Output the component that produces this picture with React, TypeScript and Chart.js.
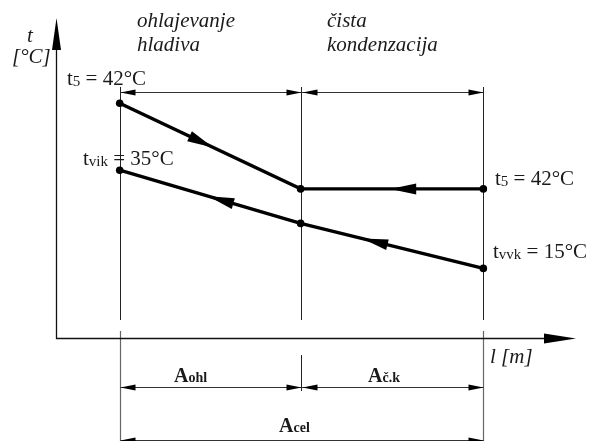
import { useEffect, useRef } from "react";
import { Chart, registerables } from "chart.js";

Chart.register(...registerables);

// Section boundaries along the length l (relative units): start, end of cooling, end of condensation
const sectionBounds = [0, 1, 2.01];
// Schematic temperature levels (diagram units) of the two streams at the boundaries
const hotLevels = [49.0, 31.1, 31.1];
const coldLevels = [35.0, 23.9, 14.5];
// Position of the t-axis on the l scale
const axisOriginL = -0.353;

// Texts
const regionTitles = [
  ["ohlajevanje", "hladiva"],
  ["čista", "kondenzacija"],
];
const pointLabels = [
  { main: "t", sub: "5", rest: " = 42°C" }, // hot, left
  { main: "t", sub: "vik", rest: " = 35°C" }, // cold, left
  { main: "t", sub: "5", rest: " = 42°C" }, // hot, right
  { main: "t", sub: "vvk", rest: " = 15°C" }, // cold, right
];
const areaLabels = [
  { main: "A", sub: "ohl" },
  { main: "A", sub: "č.k" },
  { main: "A", sub: "cel" },
];
const axisTitleT = ["t", "[°C]"];
const axisTitleL = "l [m]";

const SERIF = '"Liberation Serif", "Times New Roman", serif';
const TEXT = "#1a1a1a";

type Part = { t: string; size: number; style?: string; dy?: number };

function drawParts(ctx: CanvasRenderingContext2D, x: number, y: number, parts: Part[], align: "left" | "center" = "left") {
  ctx.save();
  ctx.fillStyle = TEXT;
  ctx.textBaseline = "alphabetic";
  ctx.textAlign = "left";
  let total = 0;
  const widths = parts.map((p) => {
    ctx.font = `${p.style ? p.style + " " : ""}${p.size}px ${SERIF}`;
    const w = ctx.measureText(p.t).width;
    total += w;
    return w;
  });
  let cx = align === "center" ? x - total / 2 : x;
  parts.forEach((p, i) => {
    ctx.font = `${p.style ? p.style + " " : ""}${p.size}px ${SERIF}`;
    ctx.fillText(p.t, cx, y + (p.dy || 0));
    cx += widths[i];
  });
  ctx.restore();
}

function arrowHead(ctx: CanvasRenderingContext2D, tx: number, ty: number, dx: number, dy: number, len: number, hw: number) {
  const n = Math.hypot(dx, dy);
  const ux = dx / n, uy = dy / n;
  const bx = tx - ux * len, by = ty - uy * len;
  ctx.beginPath();
  ctx.moveTo(tx, ty);
  ctx.lineTo(bx - uy * hw, by + ux * hw);
  ctx.lineTo(bx + uy * hw, by - ux * hw);
  ctx.closePath();
  ctx.fill();
}

function hLine(ctx: CanvasRenderingContext2D, x0: number, x1: number, y: number) {
  ctx.beginPath();
  ctx.moveTo(x0, y);
  ctx.lineTo(x1, y);
  ctx.stroke();
}
function vLine(ctx: CanvasRenderingContext2D, x: number, y0: number, y1: number) {
  ctx.beginPath();
  ctx.moveTo(x, y0);
  ctx.lineTo(x, y1);
  ctx.stroke();
}

const diagramPlugin = {
  id: "diagram",
  beforeDatasetsDraw(chart: any) {
    const ctx: CanvasRenderingContext2D = chart.ctx;
    const X = (v: number) => chart.scales.x.getPixelForValue(v);
    const Y = (v: number) => chart.scales.y.getPixelForValue(v);
    const bx = sectionBounds.map((l) => Math.round(X(l)) + 0.5);
    const ox = Math.round(X(axisOriginL)) + 0.5;
    const oy = Math.round(Y(0)) + 0.5;

    ctx.save();
    // extension lines (upper part)
    ctx.strokeStyle = "#222";
    ctx.lineWidth = 1;
    bx.forEach((x) => vLine(ctx, x, 87, 320));
    // extension lines (lower part)
    ctx.strokeStyle = "#666";
    ctx.lineWidth = 1.2;
    vLine(ctx, bx[0], 331, 441);
    vLine(ctx, bx[2], 331, 441);
    ctx.strokeStyle = "#222";
    ctx.lineWidth = 1;
    vLine(ctx, bx[1], 355, 391);

    // axes
    ctx.strokeStyle = "#111";
    ctx.fillStyle = "#000";
    ctx.lineWidth = 1.3;
    ctx.beginPath();
    ctx.moveTo(ox, 48);
    ctx.lineTo(ox, oy);
    ctx.lineTo(546, oy);
    ctx.stroke();
    arrowHead(ctx, ox, 18, 0, -1, 32, 4.5);
    arrowHead(ctx, 576, oy, 1, 0, 32, 5);

    // dimension lines
    ctx.strokeStyle = "#333";
    ctx.lineWidth = 1;
    ctx.fillStyle = "#000";
    const dimY = [92.5, 387.5];
    dimY.forEach((y) => {
      hLine(ctx, bx[0], bx[2], y);
      arrowHead(ctx, bx[0], y, -1, 0, 15, 3);
      arrowHead(ctx, bx[1], y, 1, 0, 15, 3);
      arrowHead(ctx, bx[1] + 1, y, -1, 0, 15, 3);
      arrowHead(ctx, bx[2], y, 1, 0, 15, 3);
    });
    hLine(ctx, bx[0], bx[2], 440.5);
    arrowHead(ctx, bx[0], 440.5, -1, 0, 15, 3);
    arrowHead(ctx, bx[2], 440.5, 1, 0, 15, 3);
    ctx.restore();
  },
  afterDatasetsDraw(chart: any) {
    const ctx: CanvasRenderingContext2D = chart.ctx;
    const X = (v: number) => chart.scales.x.getPixelForValue(v);
    const Y = (v: number) => chart.scales.y.getPixelForValue(v);

    // flow arrows on the lines: [levels, segment, fraction, direction]
    const flows: [number[], number, number, number][] = [
      [hotLevels, 0, 0.516, 1],
      [hotLevels, 1, 0.49, -1],
      [coldLevels, 0, 0.49, -1],
      [coldLevels, 1, 0.337, -1],
    ];
    ctx.save();
    ctx.fillStyle = "#000";
    flows.forEach(([lv, s, f, d]) => {
      const x0 = X(sectionBounds[s]), y0 = Y(lv[s]);
      const x1 = X(sectionBounds[s + 1]), y1 = Y(lv[s + 1]);
      const tx = x0 + (x1 - x0) * f, ty = y0 + (y1 - y0) * f;
      arrowHead(ctx, tx, ty, (x1 - x0) * d, (y1 - y0) * d, 26, 5.5);
    });
    ctx.restore();

    // region titles
    const titleX = [137, 327];
    regionTitles.forEach((lines, i) => {
      lines.forEach((t, j) => drawParts(ctx, titleX[i], 27 + j * 24, [{ t, size: 21, style: "italic" }]));
    });

    // axis titles
    drawParts(ctx, 27, 42, [{ t: axisTitleT[0], size: 21, style: "italic" }]);
    drawParts(ctx, 12, 63, [{ t: axisTitleT[1], size: 21, style: "italic" }]);
    drawParts(ctx, 490, 363, [{ t: axisTitleL, size: 21, style: "italic" }]);

    // point labels
    const lp: [number, number][] = [
      [67, 85],
      [83, 165],
      [495, 185],
      [493, 258],
    ];
    pointLabels.forEach((p, i) => {
      drawParts(ctx, lp[i][0], lp[i][1], [
        { t: p.main, size: 21 },
        { t: p.sub, size: 15, dy: 1 },
        { t: p.rest, size: 21 },
      ]);
    });

    // area labels
    const al: [number, number][] = [
      [190.5, 382],
      [384, 382],
      [294.5, 432],
    ];
    areaLabels.forEach((a, i) => {
      drawParts(
        ctx,
        al[i][0],
        al[i][1],
        [
          { t: a.main, size: 20, style: "bold" },
          { t: a.sub, size: 14, style: "bold" },
        ],
        "center"
      );
    });
  },
};

export default function App() {
  const ref = useRef<HTMLCanvasElement | null>(null);
  useEffect(() => {
    if (!ref.current) return;
    const pxPerL = 183.4;
    const x0px = 117.3;
    const pxPerT = 4.877;
    const y0px = 340;
    const chart = new Chart(ref.current, {
      type: "line",
      data: {
        datasets: [
          {
            data: sectionBounds.map((l, i) => ({ x: l, y: hotLevels[i] })),
            borderColor: "#000",
            backgroundColor: "#000",
            borderWidth: 3.4,
            pointRadius: 3.8,
            pointBorderWidth: 0,
            pointBackgroundColor: "#000",
            tension: 0,
          },
          {
            data: sectionBounds.map((l, i) => ({ x: l, y: coldLevels[i] })),
            borderColor: "#000",
            backgroundColor: "#000",
            borderWidth: 3.4,
            pointRadius: 3.8,
            pointBorderWidth: 0,
            pointBackgroundColor: "#000",
            tension: 0,
          },
        ],
      },
      options: {
        responsive: false,
        animation: false,
        events: [],
        layout: { padding: 0 },
        plugins: { legend: { display: false }, tooltip: { enabled: false } },
        scales: {
          x: { type: "linear", display: false, min: -x0px / pxPerL, max: (590 - x0px) / pxPerL },
          y: { type: "linear", display: false, min: (y0px - 441) / pxPerT, max: y0px / pxPerT },
        },
      },
      plugins: [diagramPlugin],
    });
    return () => chart.destroy();
  }, []);
  return (
    <div style={{ position: "fixed", left: 0, top: 0, width: 590, height: 441, background: "#fff" }}>
      <canvas ref={ref} width={590} height={441} style={{ display: "block" }} />
    </div>
  );
}
